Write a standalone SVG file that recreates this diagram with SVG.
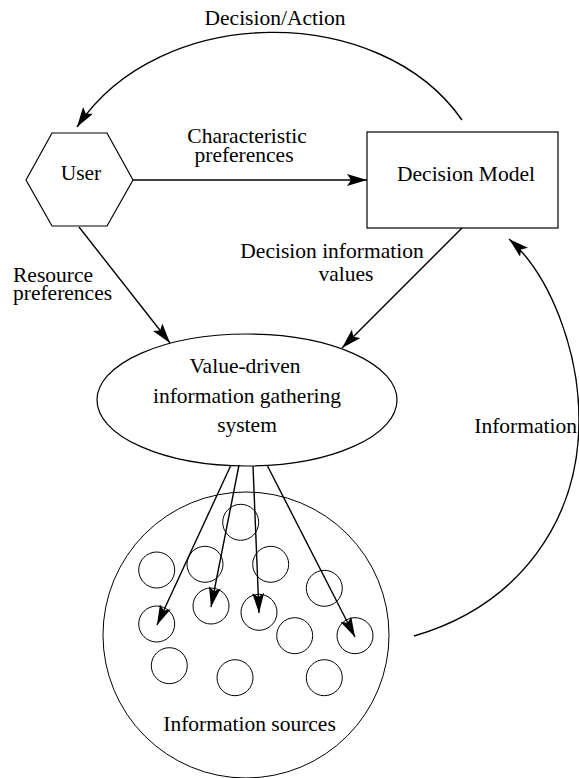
<svg xmlns="http://www.w3.org/2000/svg" width="579" height="778" viewBox="0 0 579 778">
<style>
  text { font-family: "Liberation Serif", "Times New Roman", serif; font-size: 21.5px; fill: #000; }
  .shape { fill: #fff; stroke: #000; stroke-width: 1.2; }
  .src { fill: none; stroke: #000; stroke-width: 1; }
  .conn { fill: none; stroke: #000; stroke-width: 1.4; marker-end: url(#arrow); }
  .plain { fill: none; stroke: #000; stroke-width: 1.4; }
  .mid { text-anchor: middle; }
</style>
<defs>
  <marker id="arrow" viewBox="0 0 20 12" refX="20" refY="6" markerWidth="20" markerHeight="12" markerUnits="userSpaceOnUse" orient="auto">
    <path d="M0,0 L20,6 L0,12 L4,6 z" fill="#000"/>
  </marker>
</defs>

<g id="user">
  <polygon class="shape" points="26,180 52,133 107,133 133,180 107,226 52,226"/>
  <text class="mid" x="81" y="180">User</text>
</g>

<g id="decision-model">
  <rect class="shape" x="367" y="132" width="191" height="96"/>
  <text class="mid" x="466" y="181">Decision Model</text>
</g>

<g id="gathering-system">
  <ellipse class="shape" cx="247" cy="400" rx="150" ry="66"/>
  <text class="mid" x="245" y="373">Value-driven</text>
  <text class="mid" x="247" y="403">information gathering</text>
  <text class="mid" x="247" y="432">system</text>
</g>

<g id="information-sources">
  <circle class="src" cx="246" cy="635" r="143"/>
  <circle class="src" cx="240.7" cy="522.3" r="18"/>
  <circle class="src" cx="156.7" cy="570" r="18"/>
  <circle class="src" cx="205" cy="564.3" r="18"/>
  <circle class="src" cx="270.7" cy="564.3" r="18"/>
  <circle class="src" cx="324.3" cy="588.3" r="18"/>
  <circle class="src" cx="156.7" cy="624" r="18"/>
  <circle class="src" cx="211" cy="606" r="18"/>
  <circle class="src" cx="259" cy="612.3" r="18"/>
  <circle class="src" cx="294.7" cy="635.7" r="18"/>
  <circle class="src" cx="355" cy="635.7" r="18"/>
  <circle class="src" cx="169.3" cy="665.7" r="18"/>
  <circle class="src" cx="235" cy="677.7" r="18"/>
  <circle class="src" cx="324.3" cy="677.7" r="18"/>
  <text class="mid" x="249.5" y="731">Information sources</text>
</g>

<g id="connectors">
  <path class="conn" d="M462,120 C380,2 160,2 77,127"/>
  <text class="mid" x="275" y="25">Decision/Action</text>

  <line class="conn" x1="133" y1="180" x2="367" y2="180"/>
  <text class="mid" x="247" y="143">Characteristic</text>
  <text class="mid" x="244" y="162">preferences</text>

  <line class="conn" x1="79" y1="227" x2="170" y2="343"/>
  <text x="13" y="282">Resource</text>
  <text x="13" y="300">preferences</text>

  <line class="conn" x1="462" y1="228" x2="342" y2="348"/>
  <text class="mid" x="332" y="258">Decision information</text>
  <text class="mid" x="346" y="281">values</text>

  <path class="conn" d="M414,636 C520,605 579,520 579,420 C579,350 550,275 509,239"/>
  <text x="577" y="433" text-anchor="end">Information</text>

  <line class="conn" x1="231" y1="465" x2="157" y2="625"/>
  <line class="conn" x1="239" y1="465" x2="211" y2="607"/>
  <line class="conn" x1="253" y1="466" x2="259" y2="613"/>
  <line class="conn" x1="267" y1="465" x2="355" y2="637"/>
</g>
</svg>
